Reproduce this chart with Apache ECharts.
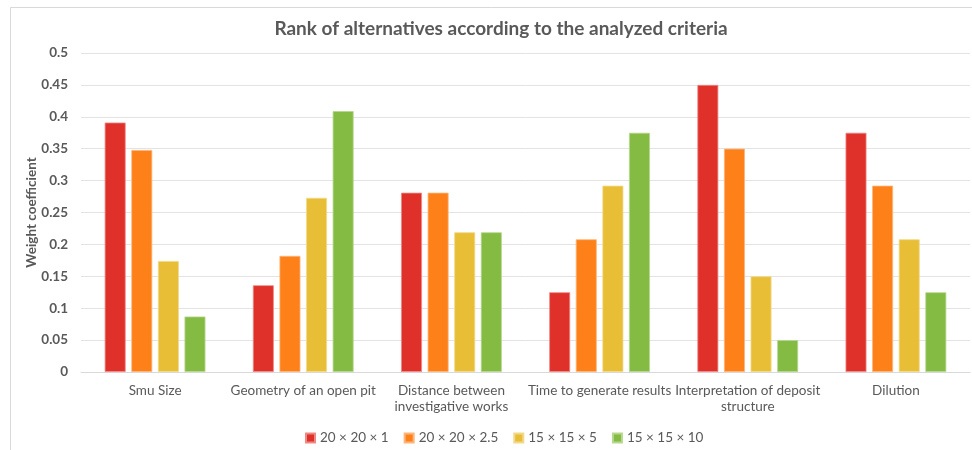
<!DOCTYPE html>
<html>
<head>
<meta charset="utf-8">
<script src="https://cdn.jsdelivr.net/npm/echarts@6/dist/echarts.min.js"></script>
<style>html,body{margin:0;padding:0;background:#fff}#c{width:972px;height:450px}</style>
</head>
<body>
<div id="c"></div>
<script>
const titleText = 'Rank of alternatives according to the analyzed criteria';
const yAxisName = 'Weight coefficient';
const categories = ['Smu Size', 'Geometry of an open pit', 'Distance between\ninvestigative works', 'Time to generate results', 'Interpretation of deposit\nstructure', 'Dilution'];
const seriesNames = ['20 × 20 × 1', '20 × 20 × 2.5', '15 × 15 × 5', '15 × 15 × 10'];
const s20x20x1 = [0.391, 0.136, 0.281, 0.125, 0.45, 0.375];
const s20x20x25 = [0.348, 0.182, 0.281, 0.208, 0.35, 0.292];
const s15x15x5 = [0.174, 0.273, 0.219, 0.292, 0.15, 0.208];
const s15x15x10 = [0.087, 0.409, 0.219, 0.375, 0.05, 0.125];
const seriesData = [s20x20x1, s20x20x25, s15x15x5, s15x15x10];
const colors = ['#E0302A', '#FD8019', '#E8BE37', '#84BB43'];
const borderColors = ['#EE8A86', '#FDB57A', '#F2D98A', '#B7D78F'];

const font = 'Lato, "Noto Sans", sans-serif';
const chart = echarts.init(document.getElementById('c'), null, {renderer: 'canvas'});
chart.setOption({
  animation: false,
  textStyle: {fontFamily: font},
  graphic: [{
    type: 'rect', left: 8, top: 5, shape: {width: 1000, height: 500},
    style: {fill: 'none', stroke: '#D9D9D9', lineWidth: 1}, silent: true, z: -1
  }],
  title: {
    text: titleText, left: 496, textAlign: 'center', top: 14,
    textStyle: {fontFamily: font, fontSize: 19, fontWeight: 'bold', color: '#595959'}
  },
  legend: {
    data: seriesNames, top: 426, left: 300,
    itemWidth: 9, itemHeight: 9, itemGap: 15, icon: 'rect',
    textStyle: {fontFamily: font, fontSize: 13.5, color: '#595959'}
  },
  grid: {left: 81, right: 2, top: 53, bottom: 78},
  xAxis: {
    type: 'category', data: categories,
    axisLine: {lineStyle: {color: '#D9D9D9', width: 1}},
    axisTick: {show: false},
    axisLabel: {interval: 0, color: '#595959', fontSize: 13.5, margin: 11, lineHeight: 16, fontFamily: font}
  },
  yAxis: {
    type: 'value', min: 0, max: 0.5, interval: 0.05,
    name: yAxisName, nameLocation: 'middle', nameGap: 42, nameRotate: 90, nameMoveOverlap: false,
    nameTextStyle: {color: '#595959', fontSize: 13.5, fontWeight: 'bold', fontFamily: font},
    axisLine: {show: false}, axisTick: {show: false},
    axisLabel: {color: '#595959', fontSize: 13.5, fontWeight: 'bold', margin: 13, fontFamily: font,
      formatter: v => String(parseFloat(v.toFixed(2)))},
    splitLine: {lineStyle: {color: '#E3E3E3', width: 1}}
  },
  series: seriesNames.map((n, i) => ({
    name: n, type: 'bar', data: seriesData[i],
    barGap: '27%', barCategoryGap: '32%',
    itemStyle: {color: colors[i], borderColor: borderColors[i], borderWidth: 0.8}
  }))
});
</script>
</body>
</html>
